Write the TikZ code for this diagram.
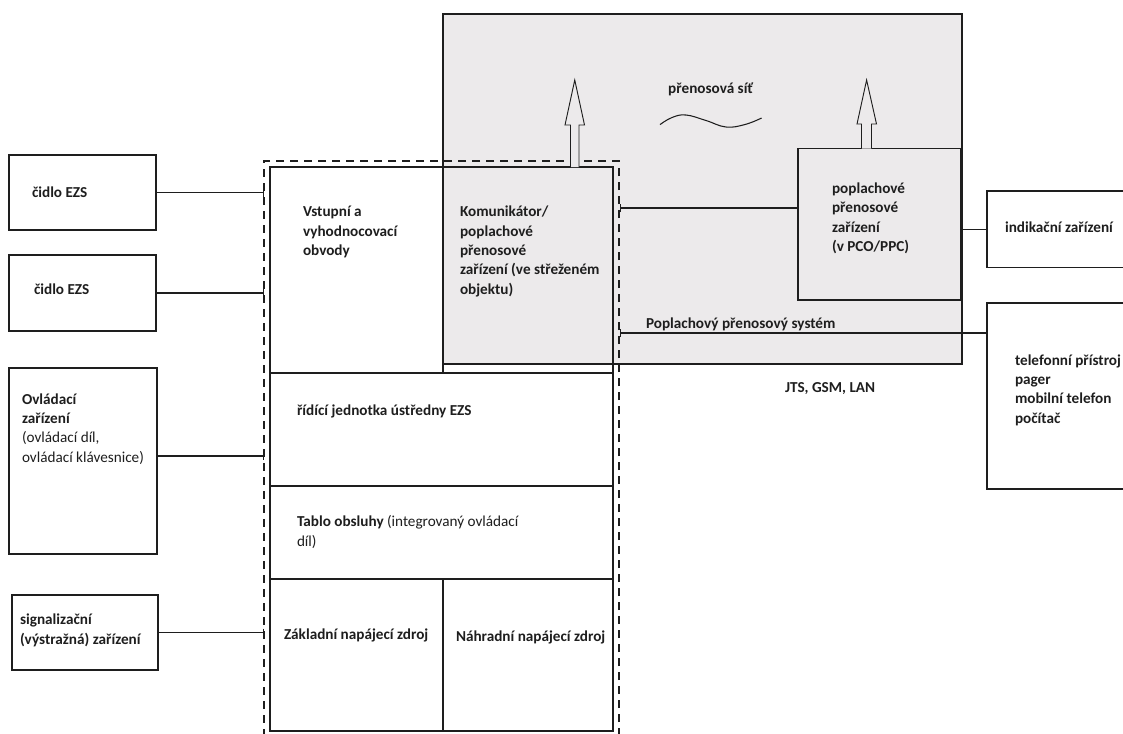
\documentclass[tikz,border=0pt]{standalone}
\usepackage{fontspec}
\setmainfont{Carlito}
\usetikzlibrary{fit,arrows.meta}
\definecolor{netgray}{HTML}{ECEAEB}
\definecolor{ink}{HTML}{1E1E1E}

\begin{document}
\begin{tikzpicture}[x=0.75pt,y=-0.75pt,
  every node/.style={inner sep=0pt,outer sep=0pt},
  box/.style={draw=ink,line width=0.9pt},
  graybox/.style={box,fill=netgray},
  whitebox/.style={box,fill=white},
  dashbox/.style={draw=ink,line width=0.9pt,dash pattern=on 6pt off 4.5pt},
  % labels are placed by the baseline of their last line
  lbl/.style={anchor=base west,align=left,text=ink,
    font=\fontsize{11.4}{14.5}\selectfont\bfseries},
  conn/.style={draw=ink,line width=0.9pt},
  tickend/.style={-{Bar[width=6pt,line width=0.9pt]}},
  tickstart/.style={{Bar[width=6pt,line width=0.9pt]}-},
  hollow/.style={draw=ink,line width=0.7pt,fill=netgray,line join=miter}
]
\useasboundingbox (0,0) rectangle (1123,733);
\clip (0,0) rectangle (1123,733);

% transmission network area
\node[graybox,fit={(443,14) (962,364)}] (net) {};

% alarm panel (EZS) blocks
\node[whitebox,fit={(270,167) (443,373)}] (vst) {};
\node[graybox,fit={(443,167) (613,364)}] (kom) {};
\draw[box] (443,364) -- (443,373) -- (613,373) -- (613,364);
\node[whitebox,fit={(270,373) (613,486)}] (ridici) {};
\node[whitebox,fit={(270,486) (613,579)}] (tablo) {};
\node[whitebox,fit={(270,579) (443,731)}] (zakl) {};
\node[whitebox,fit={(443,579) (613,731)}] (nahr) {};
\node[dashbox,fit={(264,161) (619,745)}] (ezs) {};

% peripheral devices
\node[box,fit={(9,155) (156,230)}] (s1) {};
\node[box,fit={(9,255) (156,331)}] (s2) {};
\node[box,fit={(9,368) (157,554)}] (ovl) {};
\node[box,fit={(12,595) (158,670)}] (sig) {};

% receiving side
\node[graybox,fit={(798,148.5) (961,300)}] (ppz) {};
\node[box,fit={(987,191) (1140,267.5)}] (ind) {};
\node[box,fit={(987,303) (1140,489)}] (tel) {};

% transmission arrows
\draw[hollow] (570.5,167) -- (570.5,125) -- (565,125) -- (574.75,80)
  -- (584.5,125) -- (579,125) -- (579,167);
\draw[hollow] (861.5,148.5) -- (861.5,124) -- (857,124) -- (866.6,80)
  -- (876.5,124) -- (871.5,124) -- (871.5,148.5);

% network symbol
\draw[ink,line width=0.8pt] plot[smooth,tension=0.7] coordinates
  {(660,124.6) (672,117.5) (686,115) (706,120.5) (726,127) (745,124.5) (761.6,118)};

% connectors
\draw[conn,tickend] (s1.east) -- (s1.east -| ezs.west);
\draw[conn,tickend] (s2.east) -- (s2.east -| ezs.west);
\draw[conn,tickend] ([yshift=3.75pt]ovl.east) -- ([yshift=3.75pt]ovl.east -| ezs.west);
\draw[conn,tickend] (sig.east) -- (sig.east -| ezs.west);
\coordinate (k1) at (619.5,208);
\coordinate (k2) at (619.5,333);
\draw[conn,tickstart] (k1) -- (k1 -| ppz.west);
\draw[conn,tickstart] (k2) -- (k2 -| tel.west);
\draw[conn] (ind.west) -- (ind.west -| ppz.east);

% labels
\node[lbl] (t-s1) at (32,197) {čidlo EZS};
\node[lbl] (t-s2) at (34,294) {čidlo EZS};
\node[lbl] (t-ovl) at (22,462.3) {Ovládací\\zařízení\\\mdseries(ovládací díl,\\\mdseries ovládací klávesnice)};
\node[lbl] (t-sig) at (20,644.3) {signalizační\\(výstražná) zařízení};
\node[lbl] (t-vst) at (303,255.4) {Vstupní a\\vyhodnocovací\\obvody};
\node[lbl] (t-kom) at (460,294) {Komunikátor/\\poplachové\\přenosové\\zařízení (ve střeženém\\objektu)};
\node[lbl] (t-rid) at (297,415) {řídící jednotka ústředny EZS};
\node[lbl] (t-tab) at (297,546.3) {Tablo obsluhy {\mdseries(integrovaný ovládací}\\\mdseries díl)};
\node[lbl] (t-zak) at (284,639) {Základní napájecí zdroj};
\node[lbl] (t-nah) at (456,641) {Náhradní napájecí zdroj};
\node[lbl,anchor=base] (t-net) at (710.6,93) {přenosová síť};
\node[lbl] (t-ppz) at (832,251.5) {poplachové\\přenosové\\zařízení\\(v PCO/PPC)};
\node[lbl] (t-ind) at (1005,232.5) {indikační zařízení};
\node[lbl] (t-pps) at (646,328) {Poplachový přenosový systém};
\node[lbl] (t-tel) at (1015,423) {telefonní přístroj\\pager\\mobilní telefon\\počítač};
\node[lbl] (t-jts) at (785,392) {JTS, GSM, LAN};
\end{tikzpicture}
\end{document}
